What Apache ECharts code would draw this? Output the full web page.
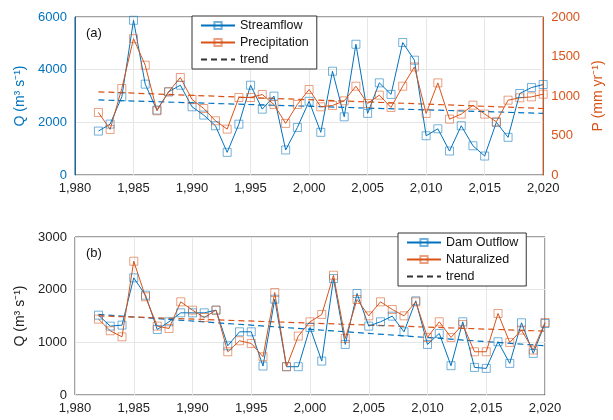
<!DOCTYPE html>
<html><head><meta charset="utf-8">
<script src="https://cdn.jsdelivr.net/npm/echarts@6/dist/echarts.min.js"></script>
<style>html,body{margin:0;background:#fff}#c{width:613px;height:420px}</style>
</head><body><div id="c"></div>
<script>
const years = []
for (let y = 1982; y <= 2020; y++) years.push(y)

const streamflow = [1668, 1933, 2970, 5875, 3450, 2465, 3160, 3410, 2590, 2275, 1870, 860, 1930, 3410, 2500, 2995, 950, 1805, 2800, 1620, 3940, 2210, 4965, 2340, 3500, 3060, 5030, 4360, 1490, 1755, 910, 1870, 1110, 720, 2000, 1430, 3095, 3320, 3435]
const precipitation = [792, 577, 1095, 1726, 1390, 813, 1053, 1234, 956, 842, 686, 581, 981, 981, 1019, 893, 653, 893, 1082, 863, 880, 939, 1124, 905, 1011, 855, 1124, 1368, 779, 1166, 707, 771, 884, 771, 674, 947, 977, 989, 1023]
const damOutflow = [1516, 1308, 1327, 2224, 1895, 1244, 1390, 1560, 1560, 1560, 1611, 935, 1200, 1200, 550, 1819, 537, 537, 1282, 644, 2211, 960, 1927, 1308, 1390, 1497, 1200, 1788, 960, 1169, 556, 1390, 524, 505, 1011, 600, 1371, 790, 1358]
const naturalized = [1440, 1219, 1105, 2540, 1864, 1308, 1263, 1769, 1611, 1472, 1611, 821, 1030, 979, 726, 1946, 537, 1118, 1390, 1529, 2274, 1074, 1813, 1503, 1769, 1624, 1503, 1769, 1093, 1390, 1093, 1339, 821, 821, 1548, 998, 1232, 853, 1377]

// trend line end points [year, value]
const trendStream = [[1982, 2850], [2020, 2340]]
const trendPrecip = [[1982, 1053], [2020, 842]]
const trendDam = [[1982, 1529], [2020, 935]]
const trendNat = [[1982, 1503], [2020, 1213]]

const BLUE = '#0072BD'
const ORANGE = '#D95319'
const BLUE_MK = 'rgba(0,114,189,0.55)'
const ORANGE_MK = 'rgba(217,83,25,0.55)'
const FONT = 'Liberation Sans'

const pairs = (vals) => years.map((y, i) => [y, vals[i]])

function dataSeries(name, vals, color, mk, xi, yi) {
  return {
    name, type: 'line', data: pairs(vals), xAxisIndex: xi, yAxisIndex: yi,
    symbol: 'rect', symbolSize: 8, showSymbol: true,
    itemStyle: { color: 'rgba(255,255,255,0)', borderColor: mk, borderWidth: 1 },
    lineStyle: { color, width: 1 }, z: 3
  }
}
function trendSeries(name, pts, color, xi, yi) {
  return {
    name, type: 'line', data: pts, xAxisIndex: xi, yAxisIndex: yi, symbol: 'none',
    lineStyle: { color, width: 1.2, type: [6, 4] }, z: 2
  }
}
const dummyTrend = (xi, yi) => ({
  name: 'trend', type: 'line', data: [[1970, 0]], xAxisIndex: xi, yAxisIndex: yi, symbol: 'none',
  itemStyle: { color: '#333' }, lineStyle: { color: '#333', width: 1.2, type: [6, 4] }
})
const trendLegend = { name: 'trend', itemStyle: { color: 'rgba(0,0,0,0)', borderWidth: 0 } }

const xAxisBase = {
  type: 'value', min: 1980, max: 2020, interval: 5,
  axisLine: { show: false }, axisTick: { show: false },
  axisLabel: { color: '#222', fontSize: 13, fontFamily: FONT, margin: 7 },
  splitLine: { lineStyle: { color: '#e6e6e6' } }
}
const plain = (v) => String(v)

const legendBase = {
  orient: 'vertical', itemWidth: 34, itemHeight: 9, itemGap: 4, padding: [3, 8, 3, 8],
  borderColor: '#333', borderWidth: 1, backgroundColor: '#fff',
  textStyle: { fontSize: 12.5, fontFamily: FONT, color: '#111' }
}

const chart = echarts.init(document.getElementById('c'))
chart.setOption({
  animation: false,
  grid: [
    { left: 75, width: 470, top: 17, height: 158, show: true, borderColor: '#444', borderWidth: 1 },
    { left: 75, width: 470, top: 237, height: 158, show: true, borderColor: '#444', borderWidth: 1 }
  ],
  xAxis: [{ ...xAxisBase, gridIndex: 0 }, { ...xAxisBase, gridIndex: 1 }],
  yAxis: [
    {
      gridIndex: 0, type: 'value', min: 0, max: 6000, interval: 2000,
      name: 'Q (m³ s⁻¹)', nameLocation: 'middle', nameGap: 42,
      nameTextStyle: { color: BLUE, fontSize: 14, fontFamily: FONT },
      axisLine: { show: true, lineStyle: { color: BLUE } }, axisTick: { show: false },
      axisLabel: { color: BLUE, fontSize: 13, fontFamily: FONT, formatter: plain },
      splitLine: { lineStyle: { color: '#e6e6e6' } }
    },
    {
      gridIndex: 0, type: 'value', min: 0, max: 2000, interval: 500, position: 'right',
      name: 'P (mm yr⁻¹)', nameLocation: 'middle', nameGap: 40, nameRotate: 90,
      nameTextStyle: { color: ORANGE, fontSize: 14, fontFamily: FONT },
      axisLine: { show: true, lineStyle: { color: ORANGE } }, axisTick: { show: false },
      axisLabel: { color: ORANGE, fontSize: 13, fontFamily: FONT, formatter: plain },
      splitLine: { show: false }
    },
    {
      gridIndex: 1, type: 'value', min: 0, max: 3000, interval: 1000,
      name: 'Q (m³ s⁻¹)', nameLocation: 'middle', nameGap: 42,
      nameTextStyle: { color: '#222', fontSize: 14, fontFamily: FONT },
      axisLine: { show: false }, axisTick: { show: false },
      axisLabel: { color: '#222', fontSize: 13, fontFamily: FONT, formatter: plain },
      splitLine: { lineStyle: { color: '#e6e6e6' } }
    }
  ],
  legend: [
    { ...legendBase, data: ['Streamflow', 'Precipitation', trendLegend], left: 192, top: 16 },
    { ...legendBase, data: ['Dam Outflow', 'Naturalized', trendLegend], left: 398, top: 233 }
  ],
  graphic: [
    { type: 'text', left: 86, top: 27, style: { text: '(a)', fontSize: 13, fontFamily: FONT, fill: '#111' } },
    { type: 'text', left: 86, top: 247, style: { text: '(b)', fontSize: 13, fontFamily: FONT, fill: '#111' } }
  ],
  series: [
    trendSeries('tS', trendStream, BLUE, 0, 0),
    trendSeries('tP', trendPrecip, ORANGE, 0, 1),
    dataSeries('Streamflow', streamflow, BLUE, BLUE_MK, 0, 0),
    dataSeries('Precipitation', precipitation, ORANGE, ORANGE_MK, 0, 1),
    dummyTrend(0, 0),
    trendSeries('tD', trendDam, BLUE, 1, 2),
    trendSeries('tN', trendNat, ORANGE, 1, 2),
    dataSeries('Dam Outflow', damOutflow, BLUE, BLUE_MK, 1, 2),
    dataSeries('Naturalized', naturalized, ORANGE, ORANGE_MK, 1, 2),
    dummyTrend(1, 2)
  ]
})
</script></body></html>
